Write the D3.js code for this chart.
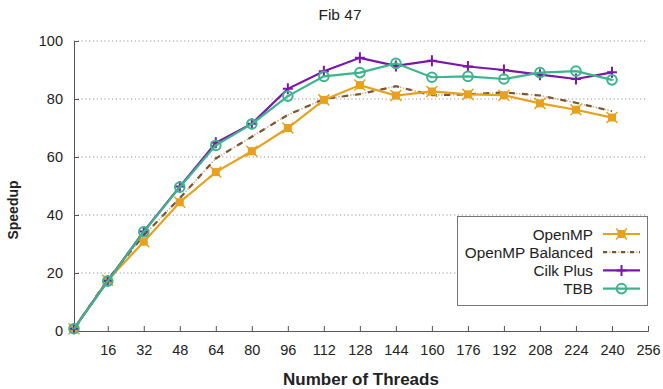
<!DOCTYPE html>
<html>
<head>
<meta charset="utf-8">
<script src="https://cdn.jsdelivr.net/npm/d3@7"></script>
<style>
  body { margin: 0; background: #fff; }
  svg { display: block; font-family: "Liberation Sans", Arial, sans-serif; }
</style>
</head>
<body>
<svg id="chart" width="663" height="389"></svg>
<script>
const threads = [1, 16, 32, 48, 64, 80, 96, 112, 128, 144, 160, 176, 192, 208, 224, 240];
const openmp = [0.8, 17.5, 30.8, 44.4, 54.8, 62, 70, 79.7, 84.8, 81.2, 82.6, 81.6, 81.3, 78.5, 76.3, 73.6];
const openmpBalanced = [0.8, 17.8, 33, 45.8, 59.5, 67, 74.5, 80, 81.7, 84.4, 81.3, 81.6, 82.3, 81.2, 78.7, 75.8];
const cilkPlus = [0.8, 17.3, 34.3, 49.8, 64.9, 71.5, 83.5, 89.6, 94.2, 91.4, 93.2, 91.2, 90, 88.4, 86.9, 89.2];
const tbb = [0.8, 17.2, 34.2, 49.6, 64, 71.4, 81, 87.8, 89.1, 92.3, 87.5, 87.8, 86.9, 89.1, 89.6, 86.6];
const xTicks = [16, 32, 48, 64, 80, 96, 112, 128, 144, 160, 176, 192, 208, 224, 240, 256];
const yTicks = [0, 20, 40, 60, 80, 100];
const seriesNames = ["OpenMP", "OpenMP Balanced", "Cilk Plus", "TBB"];

const colors = {"OpenMP": "#E8A11E", "OpenMP Balanced": "#7A5532", "Cilk Plus": "#7B17A6", "TBB": "#3CB58B"};
const markers = {"OpenMP": "bowtie", "OpenMP Balanced": null, "Cilk Plus": "plus", "TBB": "circle"};
const valuesByName = {"OpenMP": openmp, "OpenMP Balanced": openmpBalanced, "Cilk Plus": cilkPlus, "TBB": tbb};

const svg = d3.select("#chart");
const plotLeft = 74, plotRight = 648, plotTop = 41, plotBottom = 331;
const x = d3.scaleLinear().domain([1, 256]).range([plotLeft, plotRight]);
const y = d3.scaleLinear().domain([0, 100]).range([plotBottom, plotTop]);

// Title
svg.append("text").attr("x", 340).attr("y", 20).attr("text-anchor", "middle")
  .attr("font-size", 15.5).attr("fill", "#222").text("Fib 47");

// Grid
svg.append("g").selectAll("line").data(yTicks.filter(d => d > 0)).join("line")
  .attr("x1", plotLeft).attr("x2", plotRight)
  .attr("y1", d => y(d)).attr("y2", d => y(d))
  .attr("stroke", "#999").attr("stroke-width", 1).attr("stroke-dasharray", "1.2,2.6");

// Axes
const yAxis = d3.axisLeft(y).tickValues(yTicks).tickSize(-5).tickPadding(11).tickFormat(d3.format("d"));
const gy = svg.append("g").attr("transform", `translate(${plotLeft},0)`).call(yAxis);
gy.select(".domain").attr("stroke", "#555");
gy.selectAll(".tick line").attr("stroke", "#555");
gy.selectAll(".tick text").attr("font-size", 14.5).attr("fill", "#222").attr("font-family", "Liberation Sans, Arial, sans-serif");

const xAxis = d3.axisBottom(x).tickValues(xTicks).tickSize(-5).tickPadding(14).tickFormat(d3.format("d"));
const gx = svg.append("g").attr("transform", `translate(0,${plotBottom})`).call(xAxis);
gx.select(".domain").attr("stroke", "#555");
gx.selectAll(".tick line").attr("stroke", "#555");
gx.selectAll(".tick text").attr("font-size", 14.5).attr("fill", "#222").attr("font-family", "Liberation Sans, Arial, sans-serif");

// Axis titles
svg.append("text").attr("x", 361).attr("y", 385).attr("text-anchor", "middle")
  .attr("font-size", 17).attr("font-weight", "bold").attr("fill", "#222").text("Number of Threads");
svg.append("text").attr("transform", "translate(18,210) rotate(-90)").attr("text-anchor", "middle")
  .attr("font-size", 14).attr("font-weight", "bold").attr("fill", "#222").text("Speedup");

function drawMarker(g, type, cx, cy, color) {
  if (type === "bowtie") {
    g.append("rect").attr("x", cx - 4).attr("y", cy - 4).attr("width", 8).attr("height", 8).attr("fill", color);
    g.append("path").attr("d", `M${cx-5.5},${cy-5.5}L${cx+5.5},${cy+5.5}M${cx-5.5},${cy+5.5}L${cx+5.5},${cy-5.5}`)
      .attr("stroke", color).attr("stroke-width", 1.5);
  } else if (type === "plus") {
    g.append("path").attr("d", `M${cx-5},${cy}L${cx+5},${cy}M${cx},${cy-5.5}L${cx},${cy+5.5}`)
      .attr("stroke", color).attr("stroke-width", 2);
  } else if (type === "circle") {
    g.append("circle").attr("cx", cx).attr("cy", cy).attr("r", 4.8).attr("fill", "none")
      .attr("stroke", color).attr("stroke-width", 2);
    g.append("path").attr("d", `M${cx-2},${cy}L${cx+2},${cy}`).attr("stroke", color).attr("stroke-width", 1.2);
  }
}

const line = d3.line().x(d => x(d[0])).y(d => y(d[1]));
const drawOrder = ["OpenMP Balanced", "OpenMP", "Cilk Plus", "TBB"];
drawOrder.forEach(name => {
  const pts = threads.map((t, i) => [t, valuesByName[name][i]]);
  const g = svg.append("g");
  if (name === "OpenMP Balanced") {
    g.append("path").datum(pts).attr("d", line).attr("fill", "none")
      .attr("stroke", "#C9AE90").attr("stroke-width", 1.5).attr("stroke-dasharray", "1.5,1.5");
    g.append("path").datum(pts).attr("d", line).attr("fill", "none")
      .attr("stroke", colors[name]).attr("stroke-width", 2.2).attr("stroke-dasharray", "6,7");
  } else {
    g.append("path").datum(pts).attr("d", line).attr("fill", "none")
      .attr("stroke", colors[name]).attr("stroke-width", 2.2);
    pts.forEach(p => drawMarker(g, markers[name], x(p[0]), y(p[1]), colors[name]));
  }
});

// Legend
const lg = svg.append("g");
lg.append("rect").attr("x", 457.5).attr("y", 216.5).attr("width", 190).attr("height", 89)
  .attr("fill", "#fff").attr("stroke", "#777").attr("stroke-width", 1);
seriesNames.forEach((name, i) => {
  const cy = 234 + i * 18.2;
  lg.append("text").attr("x", 593).attr("y", cy + 5.5).attr("text-anchor", "end")
    .attr("font-size", 15.3).attr("fill", "#222").text(name);
  if (name === "OpenMP Balanced") {
    lg.append("line").attr("x1", 603).attr("x2", 640).attr("y1", cy).attr("y2", cy)
      .attr("stroke", "#C9AE90").attr("stroke-width", 1.5).attr("stroke-dasharray", "1.5,1.5");
    lg.append("line").attr("x1", 603).attr("x2", 640).attr("y1", cy).attr("y2", cy)
      .attr("stroke", colors[name]).attr("stroke-width", 2.2).attr("stroke-dasharray", "4,5");
  } else {
    lg.append("line").attr("x1", 603).attr("x2", 640).attr("y1", cy).attr("y2", cy)
      .attr("stroke", colors[name]).attr("stroke-width", 2.2);
    drawMarker(lg, markers[name], 621.5, cy, colors[name]);
  }
});
</script>
</body>
</html>
